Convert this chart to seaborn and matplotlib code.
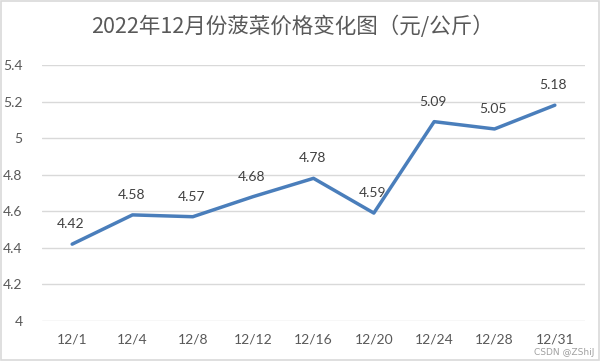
import matplotlib
matplotlib.use('Agg')
import matplotlib.pyplot as plt
import pandas as pd
import seaborn as sns
from matplotlib.patches import Rectangle

# 12月菠菜价格 (元/公斤)
dates = ['12/1', '12/4', '12/8', '12/12', '12/16', '12/20', '12/24', '12/28', '12/31']
prices = [4.42, 4.58, 4.57, 4.68, 4.78, 4.59, 5.09, 5.05, 5.18]
y_ticks = [4, 4.2, 4.4, 4.6, 4.8, 5, 5.2, 5.4]
y_tick_labels = ['4', '4.2', '4.4', '4.6', '4.8', '5', '5.2', '5.4']

sns.set_style('white')
plt.rcParams['font.family'] = ['Lato', 'Noto Sans CJK SC', 'DejaVu Sans']

df = pd.DataFrame({'date': dates, 'price': prices})
df['pos'] = range(len(df))

fig = plt.figure(figsize=(6, 3.61), dpi=100)
ax = fig.add_axes([0.07, 0.111, 0.905, 0.709])

sns.lineplot(data=df, x='pos', y='price', ax=ax, color='#4a7ebb', linewidth=2.5)

for i in df.index:
    ax.annotate(f"{df.price[i]:.2f}", (df.pos[i], df.price[i]), xytext=(-1, 10),
                textcoords='offset points', ha='center', va='bottom',
                fontsize=10, color='#404040')

ax.set_xlim(-0.5, len(dates) - 0.5)
ax.set_ylim(4, 5.4)
ax.set_xticks(df.pos)
ax.set_xticklabels(dates)
ax.set_yticks(y_ticks)
ax.set_yticklabels(y_tick_labels)
ax.tick_params(axis='both', length=0, labelsize=10, colors='#595959')
ax.tick_params(axis='x', pad=9)
ax.tick_params(axis='y', pad=14)
ax.grid(axis='y', color='#d9d9d9', linewidth=1)
ax.set_axisbelow(True)
for s in ax.spines.values():
    s.set_visible(False)
ax.set_xlabel('')
ax.set_ylabel('')

fig.text(0.487, 0.925, '2022年12月份菠菜价格变化图（元/公斤）', ha='center', va='center',
         fontsize=15.5, color='#595959', family=['Noto Sans CJK SC', 'DejaVu Sans'])
fig.text(0.99, 0.012, 'CSDN @ZShiJ', ha='right', va='bottom', fontsize=6.5,
         color='#a0a0a0', family=['DejaVu Sans'])

fig.patches.append(Rectangle((0.002, 0.003), 0.996, 0.994, transform=fig.transFigure,
                             fill=False, edgecolor='#d9d9d9', linewidth=1.2))

fig.savefig('out.png', dpi=100)
